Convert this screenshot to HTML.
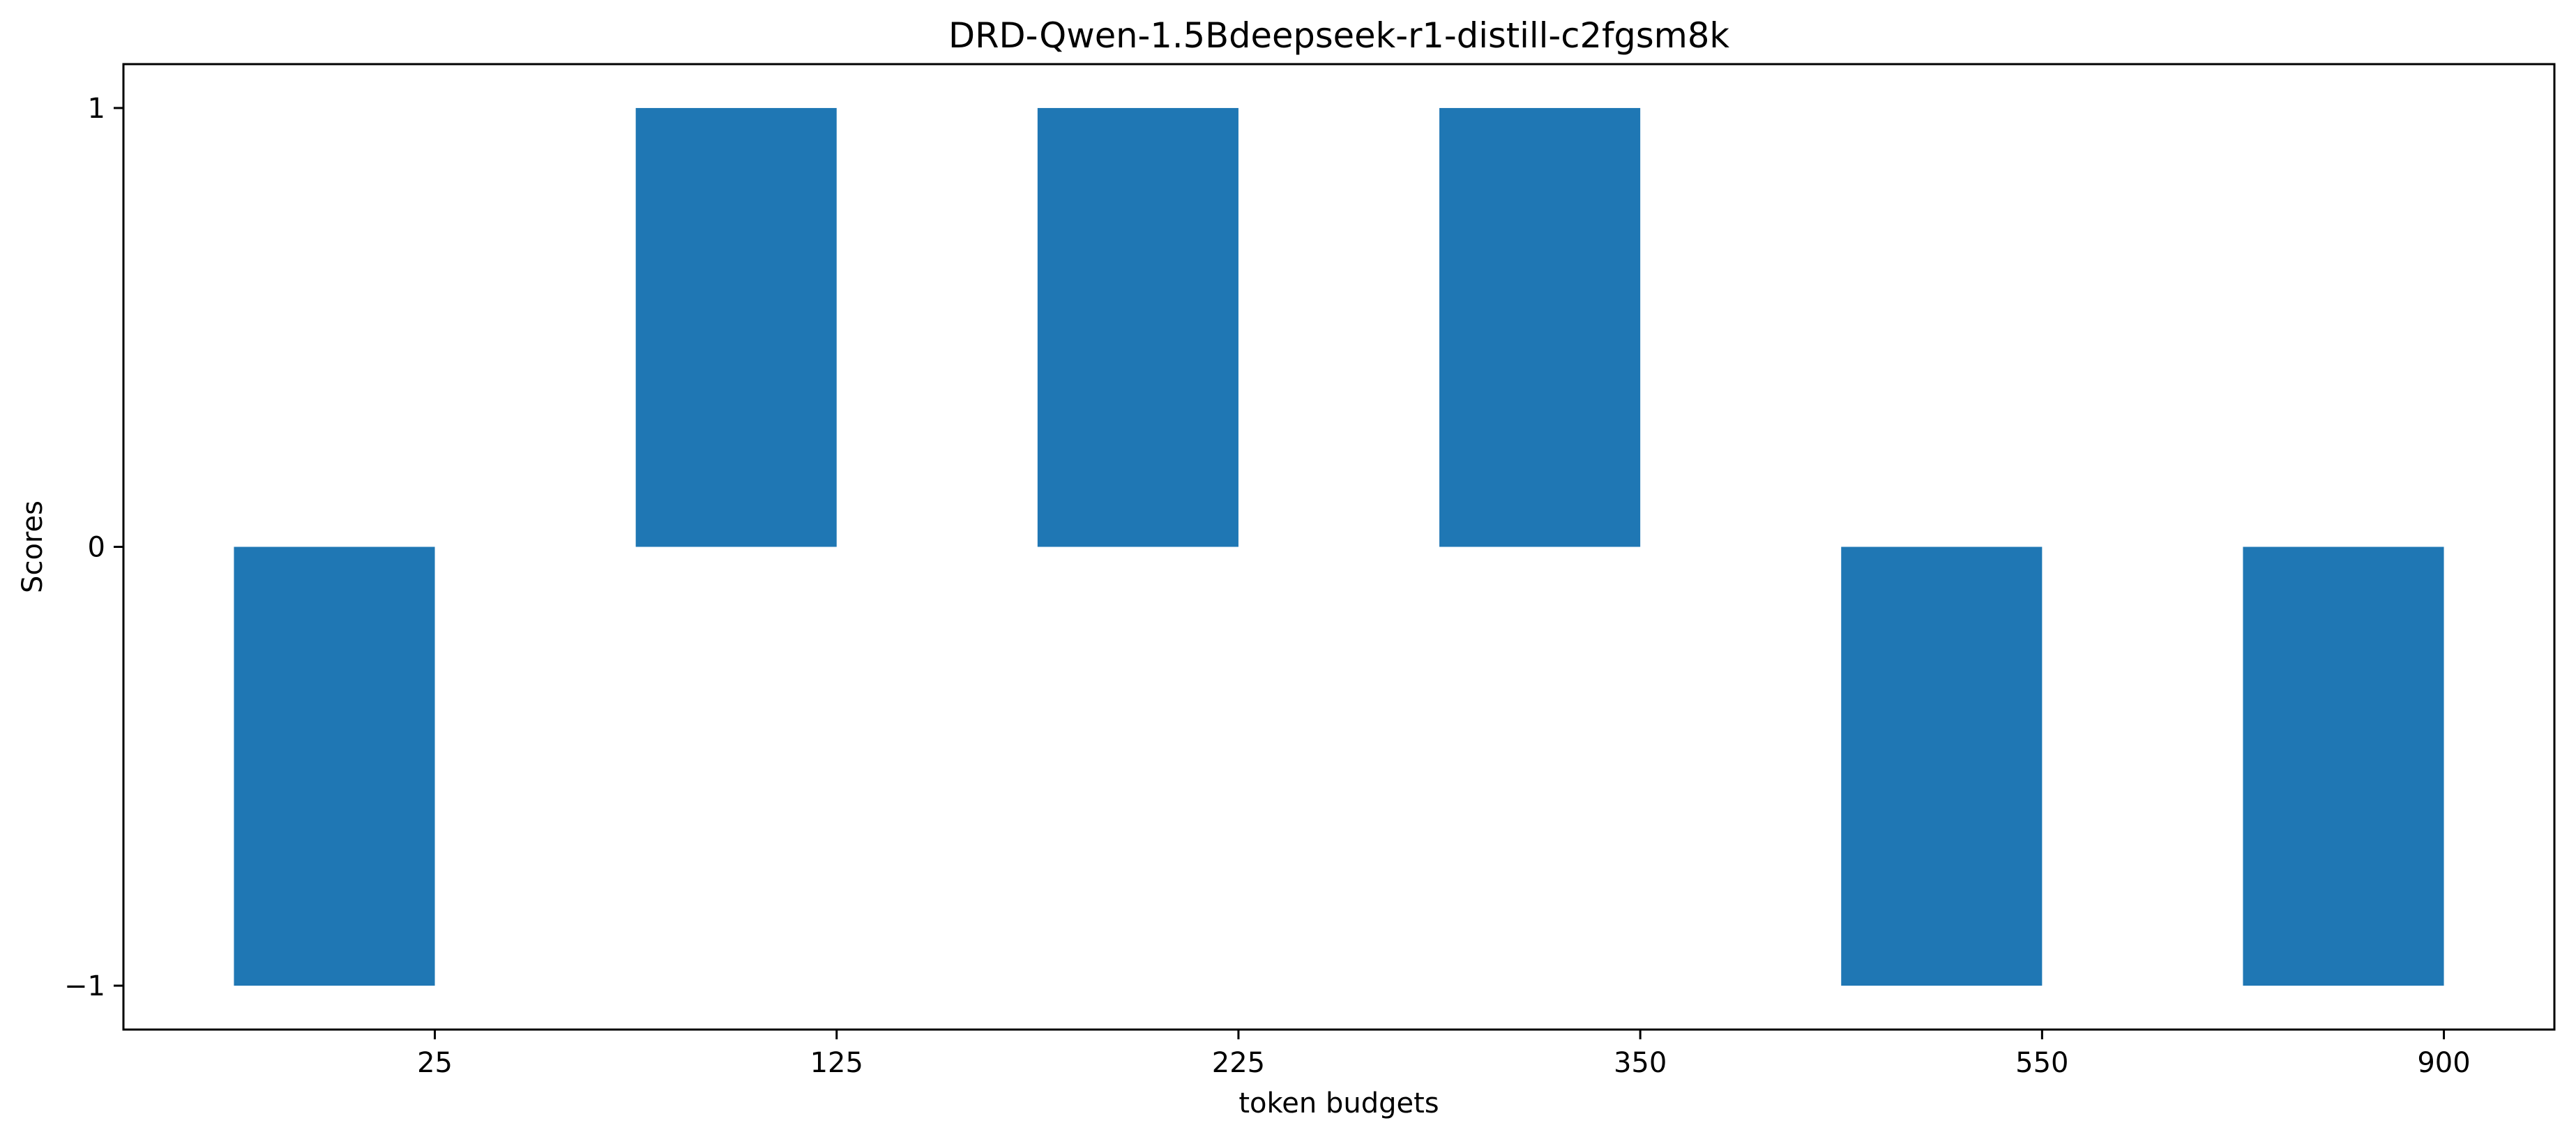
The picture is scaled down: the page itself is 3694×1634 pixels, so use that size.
<!DOCTYPE html>
<html><head><meta charset="utf-8"><style>html,body{margin:0;padding:0;background:#fff}svg{display:block}text{font-family:"DejaVu Sans","Liberation Sans",sans-serif;fill:#000}</style></head>
<body>
<svg id="chart" width="3694" height="1634" viewBox="0 0 3694 1634" xmlns="http://www.w3.org/2000/svg">
<rect width="3694" height="1634" fill="#fff"/>
<g id="bars"></g>
<g id="axes"></g>
</svg>
<script>
const categories = ["25","125","225","350","550","900"];
const scores = [-1, 1, 1, 1, -1, -1];
const yTicks = [-1, 0, 1];
const yTickLabels = ["\u22121","0","1"];

const L=177,R=3663,T=92,B=1477;
const xMin=-0.775,xMax=5.275;
const yMin=-1.1,yMax=1.1;
const xs=v=>L+(v-xMin)/(xMax-xMin)*(R-L);
const ys=v=>B-(v-yMin)/(yMax-yMin)*(B-T);
const NS="http://www.w3.org/2000/svg";
function mk(tag,attrs,parent){const e=document.createElementNS(NS,tag);for(const k in attrs)e.setAttribute(k,attrs[k]);parent.appendChild(e);return e;}
const bars=document.getElementById('bars'),axes=document.getElementById('axes');

scores.forEach((v,i)=>{
  const x0=xs(i-0.5),x1=xs(i);
  const y0=ys(Math.max(v,0)),y1=ys(Math.min(v,0));
  const r=mk('rect',{x:x0,y:y0,width:x1-x0,height:y1-y0,fill:'#1f77b4'},bars);
  
  
});

const frame=mk('rect',{x:L,y:T,width:R-L,height:B-T,fill:'none',stroke:'#000','stroke-width':3},axes);



categories.forEach((c,i)=>{
  const x=xs(i);
  mk('line',{x1:x,x2:x,y1:B,y2:B+14,stroke:'#000','stroke-width':3},axes);
  const t=mk('text',{x:x,y:1538,'text-anchor':'middle','font-size':40},axes);
  t.textContent=c;
  
  
});
yTicks.forEach((v,i)=>{
  const y=ys(v);
  mk('line',{x1:L-14,x2:L,y1:y,y2:y,stroke:'#000','stroke-width':3},axes);
  const t=mk('text',{x:L-26,y:y+14,'text-anchor':'end','font-size':40},axes);
  t.textContent=yTickLabels[i];
  
  
});
const title=mk('text',{x:(L+R)/2,y:68,'text-anchor':'middle','font-size':49.5},axes);
title.textContent='DRD-Qwen-1.5Bdeepseek-r1-distill-c2fgsm8k';


const xl=mk('text',{x:(L+R)/2,y:1596,'text-anchor':'middle','font-size':40},axes);
xl.textContent='token budgets';


const yl=mk('text',{x:0,y:0,'text-anchor':'middle','font-size':40,transform:'translate(60,'+((T+B)/2)+') rotate(-90)'},axes);
yl.textContent='Scores';


</script>
</body></html>
